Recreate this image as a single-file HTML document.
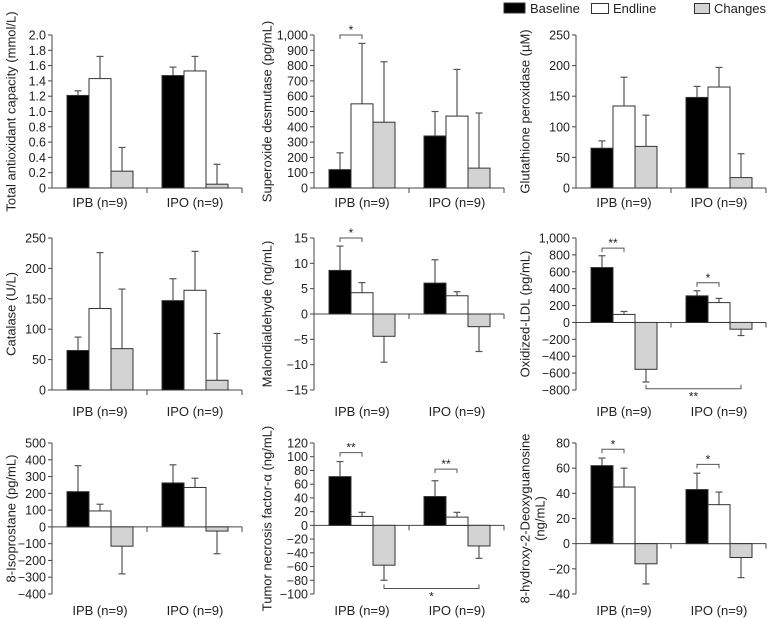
<!DOCTYPE html>
<html><head><meta charset="utf-8">
<style>
html,body{margin:0;padding:0;background:#fff;}
svg{display:block;font-family:"Liberation Sans",sans-serif;}
</style></head>
<body>
<svg id="chart" width="768" height="618" viewBox="0 0 768 618">
  <g>
    <rect x="504" y="3" width="21" height="10" fill="#000" stroke="#333"/>
    <text x="530" y="13" font-size="13" fill="#222">Baseline</text>
    <rect x="591.5" y="3.5" width="17" height="10" fill="#fff" stroke="#333"/>
    <text x="613" y="13" font-size="13" fill="#222">Endline</text>
    <rect x="694.5" y="3.5" width="15" height="10" fill="#d3d3d3" stroke="#333"/>
    <text x="714" y="13" font-size="13" fill="#222">Changes</text>
  </g>
</svg>
<script>
// ---- data ----
const groups = ["IPB (n=9)", "IPO (n=9)"];
const tacBase = [1.21, 1.47], tacEnd = [1.43, 1.53], tacChg = [0.22, 0.05];
const tacBaseErr = [1.27, 1.58], tacEndErr = [1.72, 1.72], tacChgErr = [0.53, 0.31];
const tacTicks = [0,0.2,0.4,0.6,0.8,1.0,1.2,1.4,1.6,1.8,2.0];
const sodBase = [120, 340], sodEnd = [550, 470], sodChg = [430, 130];
const sodBaseErr = [230, 500], sodEndErr = [945, 775], sodChgErr = [825, 490];
const sodTicks = [0,100,200,300,400,500,600,700,800,900,1000];
const gpxBase = [65, 148], gpxEnd = [134, 165], gpxChg = [68, 17];
const gpxBaseErr = [77, 166], gpxEndErr = [181, 197], gpxChgErr = [119, 56];
const gpxTicks = [0,50,100,150,200,250];
const catBase = [65, 147], catEnd = [134, 164], catChg = [68, 16];
const catBaseErr = [87, 183], catEndErr = [226, 228], catChgErr = [166, 93];
const catTicks = [0,50,100,150,200,250];
const mdaBase = [8.6, 6.1], mdaEnd = [4.2, 3.6], mdaChg = [-4.4, -2.5];
const mdaBaseErr = [13.4, 10.7], mdaEndErr = [6.2, 4.4], mdaChgErr = [-9.5, -7.4];
const mdaTicks = [-15,-10,-5,0,5,10,15];
const ldlBase = [650, 315], ldlEnd = [95, 235], ldlChg = [-555, -80];
const ldlBaseErr = [790, 375], ldlEndErr = [130, 285], ldlChgErr = [-705, -155];
const ldlTicks = [-800,-600,-400,-200,0,200,400,600,800,1000];
const isoBase = [210, 262], isoEnd = [95, 235], isoChg = [-115, -25];
const isoBaseErr = [365, 370], isoEndErr = [135, 290], isoChgErr = [-280, -160];
const isoTicks = [-400,-300,-200,-100,0,100,200,300,400,500];
const tnfBase = [71, 42], tnfEnd = [13, 12], tnfChg = [-58, -30];
const tnfBaseErr = [93, 65], tnfEndErr = [19, 19], tnfChgErr = [-80, -48];
const tnfTicks = [-100,-80,-60,-40,-20,0,20,40,60,80,100,120];
const ohdgBase = [62, 43], ohdgEnd = [45, 31], ohdgChg = [-16, -11];
const ohdgBaseErr = [68, 56], ohdgEndErr = [60, 41], ohdgChgErr = [-32, -27];
const ohdgTicks = [-40,-20,0,20,40,60,80];

const panels = [
 {id:"tac",col:0,row:0,title:["Total antioxidant capacity (mmol/L)"],ticks:tacTicks,fmt:v=>v===0?"0":v.toFixed(1),b:tacBase,e:tacEnd,c:tacChg,be:tacBaseErr,ee:tacEndErr,ce:tacChgErr,br:[],bot:null},
 {id:"sod",col:1,row:0,title:["Superoxide desmutase (pg/mL)"],ticks:sodTicks,fmt:v=>v.toLocaleString("en-US"),b:sodBase,e:sodEnd,c:sodChg,be:sodBaseErr,ee:sodEndErr,ce:sodChgErr,br:[[0,1000,"*"]],bot:null},
 {id:"gpx",col:2,row:0,title:["Glutathione peroxidase (\u00b5M)"],ticks:gpxTicks,fmt:v=>String(v),b:gpxBase,e:gpxEnd,c:gpxChg,be:gpxBaseErr,ee:gpxEndErr,ce:gpxChgErr,br:[],bot:null},
 {id:"cat",col:0,row:1,title:["Catalase (U/L)"],ticks:catTicks,fmt:v=>String(v),b:catBase,e:catEnd,c:catChg,be:catBaseErr,ee:catEndErr,ce:catChgErr,br:[],bot:null},
 {id:"mda",col:1,row:1,title:["Malondialdehyde (ng/mL)"],ticks:mdaTicks,fmt:v=>String(v).replace("-","\u2212"),b:mdaBase,e:mdaEnd,c:mdaChg,be:mdaBaseErr,ee:mdaEndErr,ce:mdaChgErr,br:[[0,15,"*"]],bot:null},
 {id:"ldl",col:2,row:1,title:["Oxidized-LDL (pg/mL)"],ticks:ldlTicks,fmt:v=>v.toLocaleString("en-US").replace("-","\u2212"),b:ldlBase,e:ldlEnd,c:ldlChg,be:ldlBaseErr,ee:ldlEndErr,ce:ldlChgErr,br:[[0,880,"**"],[1,470,"*"]],bot:[-785,"**"]},
 {id:"iso",col:0,row:2,title:["8-Isoprostane (pg/mL)"],ticks:isoTicks,fmt:v=>String(v).replace("-","\u2212"),b:isoBase,e:isoEnd,c:isoChg,be:isoBaseErr,ee:isoEndErr,ce:isoChgErr,br:[],bot:null},
 {id:"tnf",col:1,row:2,title:["Tumor necrosis factor-\u03b1 (ng/mL)"],ticks:tnfTicks,fmt:v=>String(v).replace("-","\u2212"),b:tnfBase,e:tnfEnd,c:tnfChg,be:tnfBaseErr,ee:tnfEndErr,ce:tnfChgErr,br:[[0,106,"**"],[1,82,"**"]],bot:[-92,"*"]},
 {id:"ohdg",col:2,row:2,title:["8-hydroxy-2-Deoxyguanosine","(ng/mL)"],ticks:ohdgTicks,fmt:v=>String(v).replace("-","\u2212"),b:ohdgBase,e:ohdgEnd,c:ohdgChg,be:ohdgBaseErr,ee:ohdgEndErr,ce:ohdgChgErr,br:[[0,75,"*"],[1,63,"*"]],bot:null}
];

const NS = "http://www.w3.org/2000/svg";
const svg = document.getElementById("chart");
const axisX = [52, 314, 576];
const titleX = [12, 268, 526];
const rowTop = [35, 238, 443];
const rowBot = [188, 390, 594];
const labelY = [207, 416, 615];
function mk(tag, attrs, parent){ const el=document.createElementNS(NS,tag); for(const k in attrs) el.setAttribute(k,attrs[k]); parent.appendChild(el); return el; }

panels.forEach(p=>{
  const g = mk("g",{},svg);
  
  
  const ax = axisX[p.col], top = rowTop[p.row], bot = rowBot[p.row];
  const ymin = p.ticks[0], ymax = p.ticks[p.ticks.length-1];
  const y = v => bot - (v - ymin) / (ymax - ymin) * (bot - top);
  const y0 = y(Math.max(0, ymin));
  const yl = mk("line",{x1:ax,y1:top,x2:ax,y2:bot,stroke:"#444","stroke-width":1},g);
  
  
  p.ticks.forEach(t=>{
    mk("line",{x1:ax-4,y1:y(t),x2:ax,y2:y(t),stroke:"#444"},g);
    const tx = mk("text",{x:ax-6,y:y(t)+4.5,"font-size":12.5,"text-anchor":"end",fill:"#222"},g);
    tx.textContent = p.fmt(t);
    
    
  });
  const xl = mk("line",{x1:ax,y1:y0,x2:ax+190,y2:y0,stroke:"#444"},g);
  
  
  mk("line",{x1:ax+95,y1:y0,x2:ax+95,y2:y0+5,stroke:"#444"},g);
  mk("line",{x1:ax+190,y1:y0,x2:ax+190,y2:y0+5,stroke:"#444"},g);
  const tcx = titleX[p.col], tcy = (top+bot)/2;
  p.title.forEach((t,i)=>{
    const tt = mk("text",{x:tcx + i*15,y:tcy,"font-size":13,"text-anchor":"middle",fill:"#222",transform:`rotate(-90 ${tcx + i*15} ${tcy})`,"dominant-baseline":"middle"},g);
    tt.textContent = t;
    
    
  });
  const series = [[p.b,p.be,"#000","baseline"],[p.e,p.ee,"#fff","endline"],[p.c,p.ce,"#d3d3d3","changes"]];
  [0,1].forEach(gi=>{
    const lab = mk("text",{x:ax+48+gi*95,y:labelY[p.row],"font-size":13,"text-anchor":"middle",fill:"#222"},g);
    lab.textContent = groups[gi];
    
    
    series.forEach((s,si)=>{
      const v = s[0][gi], ev = s[1][gi];
      const x = ax + 15 + gi*95 + si*22;
      const yv = y(v);
      const cx = x + 11;
      mk("line",{x1:cx,y1:yv,x2:cx,y2:y(ev),stroke:"#555","stroke-width":1.2},g);
      mk("line",{x1:cx-3.5,y1:y(ev),x2:cx+3.5,y2:y(ev),stroke:"#555","stroke-width":1.2},g);
      const r = mk("rect",{x:x,y:Math.min(yv,y0),width:22,height:Math.abs(y0-yv),fill:s[2],stroke:"#333","stroke-width":1},g);
      
      
    });
  });
  p.br.forEach(b=>{
    const x1 = ax + 15 + b[0]*95 + 11, x2 = x1 + 22, by = y(b[1]);
    const pth = mk("path",{d:`M${x1} ${by+4} V${by} H${x2} V${by+4}`,fill:"none",stroke:"#555"},g);
    
    
    const st = mk("text",{x:(x1+x2)/2,y:by-1,"font-size":12,"text-anchor":"middle",fill:"#222"},g);
    st.textContent = b[2];
    
    
  });
  if(p.bot){
    const x1 = ax + 15 + 44 + 11, x2 = x1 + 95, by = y(p.bot[0]);
    const pth = mk("path",{d:`M${x1} ${by-4} V${by} H${x2} V${by-4}`,fill:"none",stroke:"#555"},g);
    
    
    const st = mk("text",{x:(x1+x2)/2,y:by+12,"font-size":12,"text-anchor":"middle",fill:"#222"},g);
    st.textContent = p.bot[1];
    
    
  }
});
</script>
</body></html>
